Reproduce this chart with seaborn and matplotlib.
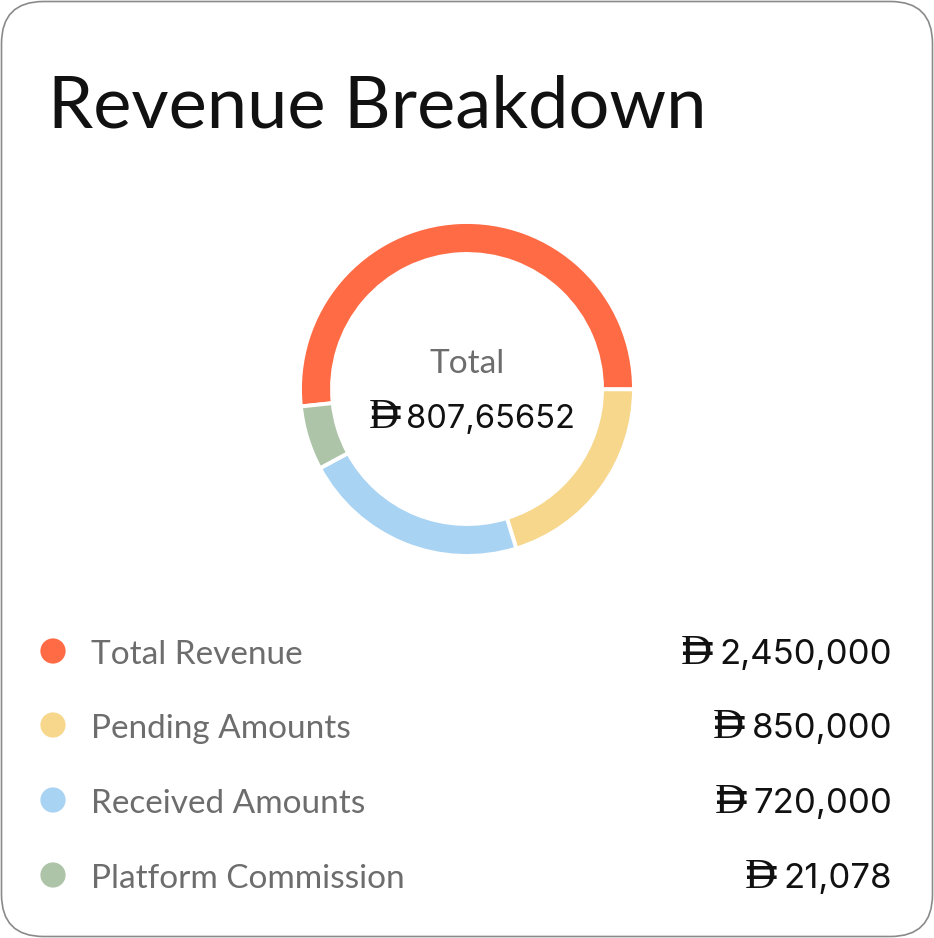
import matplotlib
matplotlib.use("Agg")
import matplotlib.pyplot as plt
from matplotlib.patches import FancyBboxPatch
import seaborn as sns
import pandas as pd

categories = ["Total Revenue", "Pending Amounts", "Received Amounts", "Platform Commission"]
amount_labels = ["2,450,000", "850,000", "720,000", "21,078"]
ring_shares = [51.7, 20.2, 21.9, 6.2]   # share of the ring each slice covers (%)
colors = ["#FF6B45", "#F6D78C", "#A9D3F3", "#ADC4A8"]
center_title = "Total"
center_value = "807,65652"
title = "Revenue Breakdown"

sns.set_theme(style="white")
plt.rcParams['font.family'] = ['Lato', 'DejaVu Sans']

W, H = 934, 938
fig = plt.figure(figsize=(W / 100, H / 100), dpi=100)
fig.patch.set_facecolor("white")

ax = fig.add_axes([0, 0, 1, 1])
ax.set_xlim(0, W)
ax.set_ylim(H, 0)
ax.axis("off")

# card outline
card = FancyBboxPatch((1.5, 1.5), W - 3, H - 3, boxstyle="round,pad=0,rounding_size=42",
                      facecolor="white", edgecolor="#8a8a8a", linewidth=1.2)
ax.add_patch(card)

ax.text(48, 127, title, fontsize=52, color="#111111", va="baseline", ha="left")

renderer = fig.canvas.get_renderer()


def dirham_value(x_right, y_base, number, size, sign_size):
    # number right-aligned, dirham sign (D with two bars) in front of it
    t = ax.text(x_right, y_base, number, fontsize=size, family=["Inter", "DejaVu Sans"],
                color="#111111", ha="right", va="baseline")
    bb = t.get_window_extent(renderer).transformed(ax.transData.inverted())
    x0 = min(bb.x0, bb.x1)
    d = ax.text(x0 - 7, y_base, "D", fontsize=sign_size, family="Liberation Serif",
                color="#111111", ha="right", va="baseline")
    db = d.get_window_extent(renderer).transformed(ax.transData.inverted())
    xc = (db.x0 + db.x1) / 2
    ax.text(xc + 1, y_base - 1, "=", fontsize=sign_size * 1.1, family="DejaVu Sans",
            color="#111111", ha="center", va="baseline")


# donut
cx, cy, r = 467, 389, 167
dax = fig.add_axes([(cx - r) / W, (H - cy - r) / H, 2 * r / W, 2 * r / H])
df = pd.DataFrame({"category": categories, "share": ring_shares, "color": colors})
dax.pie(df["share"], colors=df["color"], startangle=186, counterclock=False,
        radius=1, wedgeprops=dict(width=32 / r, edgecolor="white", linewidth=2.8))
dax.set_xlim(-1.0, 1.0)
dax.set_ylim(-1.0, 1.0)
dax.set_aspect("equal")
dax.axis("off")

ax.text(467, 373, center_title, fontsize=24, color="#6d6d6d", ha="center", va="baseline")
dirham_value(575, 428, center_value, 23.5, 30)

# legend rows
row_y = [651, 725, 800, 875]
legend_df = pd.DataFrame({"x": [53] * 4, "y": row_y, "category": categories})
sns.scatterplot(data=legend_df, x="x", y="y", hue="category", palette=colors,
                s=330, edgecolor="none", legend=False, ax=ax)
ax.set_xlim(0, W)
ax.set_ylim(H, 0)
ax.axis("off")

for y, cat, amt in zip(row_y, categories, amount_labels):
    ax.text(91, y + 13, cat, fontsize=24, color="#6d6d6d", ha="left", va="baseline")
    dirham_value(892, y + 13, amt, 25, 31)

fig.savefig("out.png", dpi=100, facecolor="white")
